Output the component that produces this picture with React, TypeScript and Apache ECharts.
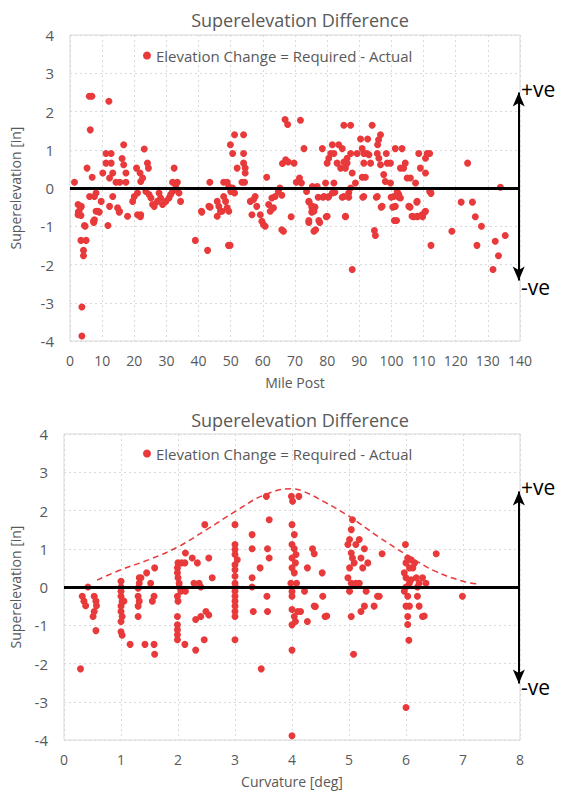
import React, { useEffect, useRef } from "react";
import * as echarts from "echarts";

const TITLE = "Superelevation Difference";
const LEGEND = "Elevation Change = Required - Actual";
const Y_NAME = "Superelevation [in]";
const X1_NAME = "Mile Post";
const X2_NAME = "Curvature [deg]";

// [mile post, elevation change (in)]
const milePostPoints: [number, number][] = [
  [6,2.4],[6.8,2.4],[12.1,2.27],[6.3,1.52],[16.7,1.13],[23.1,1.02],[5.3,0.52],[6.9,0.28],[1.4,0.15],
  [11.2,0.9],[12.8,0.9],[11.2,0.65],[12.8,0.65],[10.2,0.39],[13.3,0.39],[12.3,0.26],
  [16.2,0.77],[16.7,0.61],[17.4,0.39],[14.3,0.15],[15.5,0.15],[17.4,0.15],
  [20.7,0.52],[21.8,0.39],[22.6,0.26],[22,0.17],[24.1,0.65],[24.4,0.52],[32.4,0.52],[31.9,0.15],[33.4,0.15],[32.9,0.08],
  [8.1,-0.13],[7.6,-0.22],[6.1,-0.22],[2.5,-0.43],[3.5,-0.48],[2.8,-0.61],[2.5,-0.7],[4.5,-0.98],
  [8.1,-0.61],[8.7,-0.61],[7.6,-0.83],[7.3,-0.87],[9.7,-0.35],[11.8,-0.98],[12.3,-0.48],[14.8,-0.52],[15.4,-0.61],[17.9,-0.74],[13.3,-0.22],
  [19.5,-0.35],[20,-0.22],[21,-0.13],[21,-0.7],[22,-0.7],
  [23.6,-0.09],[24.6,-0.17],[25.2,-0.26],[25.7,-0.43],[27.2,-0.35],[28.2,-0.26],[28.8,-0.43],[29.8,-0.35],[30.8,-0.26],[31.3,-0.17],[31.9,-0.09],[32.9,-0.04],[33.9,-0.13],[34.4,-0.35],[27.7,-0.13],[26.2,-0.48],
  [40.9,-0.61],[43.2,-0.48],[43.5,0.15],[45.8,-0.35],[46.3,-0.48],[46.8,-0.61],[45.8,-0.74],
  [47.8,-0.22],[48.4,-0.35],[48.9,-0.52],[47.3,-0.61],[49.4,-0.61],
  [47.8,0.15],[48.9,0.15],[49.4,0.04],
  [49.9,1.13],[51.2,1.39],[54,1.39],[50.6,0.9],[54,0.9],[52,0.52],[54,0.65],[54.5,0.52],[54.5,0.39],[53.5,0.15],[54.3,0.15],
  [50,-0.09],[50.6,0],[51.2,-0.13],
  [56.1,-0.35],[57.1,-0.3],[57.6,-0.22],[58.1,-0.48],[56.6,-0.7],[59.2,-0.7],[59.7,-0.87],[60.2,-0.96],[60.7,-1.0],
  [61.2,0.28],[61.8,-0.43],[62.8,-0.26],[62.3,-0.61],[63.3,-0.52],[63.8,-0.22],[64.8,-0.09],[65.3,0],[65.9,-0.19],[66.1,0.64],[67.1,0.74],[67.9,0.68],[66.9,1.79],[67.7,1.66],[65.9,-1.09],
  [3.7,-3.11],[3.7,-3.87],[3.4,-1.37],[5,-1.37],[4.2,-1.63],[4.2,-1.77],[4.7,-1.0],[3.4,-0.5],[2.6,-0.63],[3.4,-0.72],[7.4,-0.9],[9.1,-0.63],[15.3,-0.63],[21.9,-0.75],[39,-1.37],[42.8,-1.63],[49.3,-1.5],[49.8,-1.5],[41,-0.63],[43.6,-0.5],
  [87.8,-2.13],[94.7,-1.11],[95,-1.24],[112.3,-1.5],[118.8,-1.13],[121.7,-0.37],[125.2,-0.37],[126.1,-0.75],[126.6,-1.5],[128,-1.0],[131.6,-2.13],[132.3,-1.39],[133.3,-1.77],[135.4,-1.24],[133.9,0.02],
  [66.4,-1.13],[68.8,-0.75],[74.3,-0.9],[75.9,-1.13],[77.7,-0.9],[79.7,-0.75],[85.7,-0.75],[74.4,-0.37],[75.2,-0.5],[75.2,-0.63],[76.2,-0.5],[77.2,-0.24],[78.7,-0.24],[80.3,-0.24],[82.4,-0.11],[84.7,-0.24],[86.7,-0.24],[91.1,-0.24],[95.3,-0.24],[96.8,-0.5],[100.4,-0.5],[100.9,-0.85],[99.9,-0.24],[102.3,-0.24],[105.8,-0.5],[106.9,-0.75],[108.1,-0.75],[109.7,-0.75],[110.4,-0.63],[107.9,-0.37],[112.3,-0.14],
  [71.7,1.77],[85.2,1.64],[87.3,1.64],[94,1.64],[90.4,1.28],[92.6,1.28],[96.6,1.39],[96,1.26],[95.7,1.13],[72.8,1.03],
  [78.5,1.03],[81.6,1.13],[83.6,1.13],[84.7,1.03],[81.1,0.9],[80.5,0.78],[80,0.65],[82.1,0.9],
  [83.1,0.65],[84.2,0.52],[85.7,0.52],[86.2,0.65],[87.3,0.9],[89.3,0.9],[87.8,0.39],[86.2,0.78],[85.2,0.68],
  [90.9,1.03],[91.4,0.9],[92.4,0.9],[91.4,0.65],[93.5,0.65],[90.9,0.28],[91.9,0.28],[93,0.87],[95.6,0.9],[96.1,0.78],[96.6,0.61],[98.4,0.9],
  [98.7,0.65],[99.7,0.65],[101.2,1.03],[103.3,1.03],[102.8,0.52],[104.3,0.65],[103.8,0.52],[104.9,0.26],[105.9,0.26],[108.5,0.9],[111.1,0.9],[111.9,0.9],[110.6,0.78],[109,0.52],[110.6,0.39],
  [97.6,0.35],[98.1,0.17],[99.7,0.13],[107.5,0.13],[111.9,-0.09],[123.7,0.65],
  [69.7,0.65],[71.4,0.26],[72,0.13],[70.4,0.15],
  [73.6,-0.09],[75.4,0.04],[76.9,0.04],[79.5,0.13],[82.1,0.13],[79,-0.22],[80.5,-0.22],[81.6,-0.13],
  [74.3,-0.35],[75.4,-0.48],[75.9,-0.61],[74.3,-0.85],[77.4,-0.85],[80,-0.74],[76.4,-1.09],
  [85.2,-0.22],[86.7,-0.13],[87.3,0],[88.8,0.13],[85.7,-0.74],[91.4,-0.22],[95.6,-0.22],[97.1,-0.48],
  [100.7,-0.22],[101.8,-0.09],[102.3,-0.17],[101.2,-0.48],[102.8,-0.26],[105.4,-0.48],[106.4,-0.74],[108,-0.74],[109.5,-0.7],[110.6,-0.61],[108,-0.35],[101.6,-0.85],[112.1,-0.09],
];

// [curvature (deg), elevation change (in)]
const curvaturePoints: [number, number][] = [
  [0.42,0],[0.32,-0.24],[0.35,-0.37],[0.38,-0.49],[0.53,-0.24],[0.56,-0.37],[0.57,-0.49],[0.53,-0.64],[0.51,-0.77],[0.29,-2.14],[0.56,-1.14],
  [1.0,0.15],[1.0,0],[1.0,-0.11],[1.0,-0.24],[1.02,-0.37],[1.0,-0.5],[1.0,-0.64],[1.02,-0.77],[1.0,-0.9],[1.05,-0.37],[1.0,-1.17],[1.02,-1.26],[1.16,-1.5],
  [1.32,0.24],[1.32,0.1],[1.3,-0.03],[1.3,-0.24],[1.32,-0.37],[1.3,-0.5],[1.3,-0.77],[1.35,0.24],[1.45,0.37],[1.59,0.5],[1.52,0.1],[1.55,-0.37],[1.58,-0.24],[1.42,-1.5],[1.58,-1.5],[1.59,-1.76],
  [2.0,0.63],[2.06,0.63],[2.12,0.63],[1.99,0.5],[1.99,0.37],[2.0,0.24],[2.02,0.1],[2.02,0],[2.05,-0.11],[2.13,-0.11],[1.99,-0.24],[2.0,-0.37],[1.99,-0.77],[1.99,-0.99],[1.99,-1.12],[1.99,-1.25],[1.99,-1.38],[2.12,-1.5],
  [2.13,0.89],[2.25,0.76],[2.34,0.63],[2.54,0.76],[2.6,0.24],[2.28,0.1],[2.37,0.1],[2.4,0],[2.31,-0.85],[2.4,-0.77],[2.49,-0.64],[2.47,1.63],[2.31,-1.65],[2.46,-1.38],[2.54,-0.73],
  [3.0,1.63],[3.0,1.11],[3.0,0.98],[3.0,0.85],[3.04,0.71],[3.0,0.58],[3.0,0.45],[3.0,0.28],[3.0,0.1],[3.01,0],[3.0,-0.11],[3.0,-0.24],[3.0,-0.37],[3.0,-0.5],[3.0,-0.64],[3.0,-0.77],[3.0,-1.38],
  [3.3,1.37],[3.3,1.0],[3.44,0.5],[3.3,0.24],[3.3,0],[3.32,-0.64],[3.56,-0.24],[3.57,-0.64],[3.57,1.0],[3.6,0.76],[3.6,1.76],[3.55,2.37],[3.46,-2.14],
  [3.99,2.37],[4.12,2.37],[4.01,2.24],[4.0,1.63],[4.04,1.37],[4.0,1.11],[4.04,1.0],[4.07,0.85],[4.0,0.76],[4.06,0.63],[4.0,0.5],[4.04,0.37],[4.08,0.1],[3.98,0.1],[4.0,-0.24],[4.0,-0.59],[4.04,-0.77],[4.1,-0.64],[4.0,-0.99],[4.06,-0.9],[4.0,-0.12],[4.0,-1.65],[4.0,-3.89],
  [4.36,1.0],[4.39,0.87],[4.27,0.5],[4.53,0.37],[4.22,-0.11],[4.54,-0.24],[4.39,-0.5],[4.58,-0.77],[4.27,-0.9],[4.41,-0.51],[4.61,-0.76],[4.15,-0.64],
  [5.06,1.76],[5.04,1.5],[5.01,1.24],[5.18,1.24],[4.98,1.11],[5.27,1.0],[5.12,1.11],[5.04,0.89],[5.06,0.76],[5.21,0.76],[5.09,0.63],[5.33,0.63],[5.24,0.5],[5.01,0.5],[4.98,0.24],[5.04,0.1],[5.12,0.1],[5.18,0.1],[5.01,-0.11],[5.3,-0.11],[5.5,-0.24],[5.53,-0.24],[5.04,-0.77],[5.21,-0.64],[5.27,-0.5],[5.44,-0.5],[5.58,0.87],[5.08,-1.76],
  [5.99,1.11],[6.03,0.76],[6.09,0.71],[6.15,0.63],[6.0,0.63],[6.06,0.5],[6.12,0.5],[5.97,0.37],[6.0,0.24],[6.09,0.19],[6.18,0.24],[6.06,0.1],[6.0,0],[6.2,0],[6.23,0.1],[6.29,0.24],[6.35,0.1],[5.97,-0.11],[6.03,-0.24],[6.2,-0.24],[6.0,-0.5],[6.06,-0.5],[6.23,-0.5],[6.29,-0.77],[6.03,-0.77],[6.03,-0.98],[6.05,-1.39],[6.0,-3.15],[6.53,0.87],[6.99,-0.24],[6.32,-0.76],
];

// dashed envelope in the curvature chart
const envelopePoints: [number, number][] = [
  [0.58,0.18],[1.0,0.45],[1.5,0.72],[2.0,1.05],[2.5,1.5],[3.0,1.97],[3.5,2.4],[4.0,2.57],[4.2,2.5],[4.55,2.24],[5.0,1.85],[5.5,1.33],[6.0,0.85],[6.5,0.42],[7.0,0.15],[7.25,0.08],
];

const RED = "#e8393b";
const GRAY_TEXT = "#595959";
const GRID_LINE = "#d9d9d9";
const FONT = "'Open Sans', 'Noto Sans', sans-serif";

function xAxisCfg(gridIndex: number, max: number, interval: number, name: string) {
  return {
    type: "value",
    gridIndex,
    min: 0,
    max,
    interval,
    name,
    nameLocation: "middle",
    nameGap: 34,
    nameTextStyle: { color: GRAY_TEXT, fontSize: 14, fontFamily: FONT },
    axisLine: { show: false },
    axisTick: { show: false },
    axisLabel: { color: GRAY_TEXT, fontSize: 14, margin: 12, fontFamily: FONT },
    splitLine: { show: true, lineStyle: { color: GRID_LINE, type: [2, 3], width: 1 } },
  };
}

function yAxisCfg(gridIndex: number, nameGap: number) {
  return {
    type: "value",
    gridIndex,
    min: -4,
    max: 4,
    interval: 1,
    name: Y_NAME,
    nameLocation: "middle",
    nameGap,
    nameTextStyle: { color: GRAY_TEXT, fontSize: 14, fontFamily: FONT },
    axisLine: { show: false },
    axisTick: { show: false },
    axisLabel: { color: GRAY_TEXT, fontSize: 15, margin: 16, fontFamily: FONT },
    splitLine: { show: true, lineStyle: { color: GRID_LINE, type: [2, 3], width: 1 } },
  };
}

function arrowMarkLine(xVal: number, top: number, bottom: number) {
  return {
    silent: true,
    animation: false,
    symbol: ["arrow", "arrow"],
    symbolSize: [9, 14],
    label: { show: false },
    lineStyle: { color: "#000", width: 2, type: "solid" },
    data: [[{ coord: [xVal, top] }, { coord: [xVal, bottom] }]],
  };
}

export default function App() {
  const ref = useRef<HTMLDivElement>(null);
  useEffect(() => {
    if (!ref.current) return;
    const chart = echarts.init(ref.current, undefined, { renderer: "svg" });
    const option: any = {
      animation: false,
      backgroundColor: "#fff",
      textStyle: { fontFamily: FONT },
      title: [
        { text: TITLE, left: 295, top: 6, textAlign: "center", textStyle: { color: GRAY_TEXT, fontSize: 18, fontWeight: "normal", fontFamily: FONT } },
        { text: TITLE, left: 295, top: 406, textAlign: "center", textStyle: { color: GRAY_TEXT, fontSize: 18, fontWeight: "normal", fontFamily: FONT } },
      ],
      legend: [
        { data: [LEGEND], left: 138, top: 43, icon: "circle", itemWidth: 8, itemHeight: 8, itemGap: 6, textStyle: { color: GRAY_TEXT, fontSize: 15, fontFamily: FONT } },
        { data: [LEGEND], left: 138, top: 441, icon: "circle", itemWidth: 8, itemHeight: 8, itemGap: 6, textStyle: { color: GRAY_TEXT, fontSize: 15, fontFamily: FONT } },
      ],
      grid: [
        { left: 69, top: 35, width: 451, height: 306, show: true, borderColor: GRID_LINE, borderWidth: 1 },
        { left: 63, top: 434, width: 457, height: 306, show: true, borderColor: GRID_LINE, borderWidth: 1 },
      ],
      xAxis: [xAxisCfg(0, 140, 10, X1_NAME), xAxisCfg(1, 8, 1, X2_NAME)],
      yAxis: [yAxisCfg(0, 48), yAxisCfg(1, 42)],
      series: [
        {
          name: LEGEND,
          type: "scatter",
          xAxisIndex: 0,
          yAxisIndex: 0,
          symbolSize: 7,
          itemStyle: { color: RED, opacity: 1 },
          data: milePostPoints,
          markLine: {
            silent: true,
            symbol: ["none", "none"],
            label: { show: false },
            lineStyle: { color: "#000", width: 3, type: "solid" },
            data: [{ yAxis: 0 }],
          },
          z: 3,
        },
        {
          name: "arrow1",
          type: "line",
          xAxisIndex: 0,
          yAxisIndex: 0,
          data: [],
          clip: false,
          markLine: arrowMarkLine(139.6, 2.5, -2.42),
          z: 5,
        },
        {
          name: "envelope",
          type: "line",
          xAxisIndex: 1,
          yAxisIndex: 1,
          smooth: 0.4,
          showSymbol: false,
          symbol: "none",
          lineStyle: { color: RED, width: 1.5, type: [6, 4] },
          data: envelopePoints,
          z: 2,
        },
        {
          name: LEGEND,
          type: "scatter",
          xAxisIndex: 1,
          yAxisIndex: 1,
          symbolSize: 7,
          itemStyle: { color: RED, opacity: 1 },
          data: curvaturePoints,
          markLine: {
            silent: true,
            symbol: ["none", "none"],
            label: { show: false },
            lineStyle: { color: "#000", width: 3, type: "solid" },
            data: [{ yAxis: 0 }],
          },
          z: 3,
        },
        {
          name: "arrow2",
          type: "line",
          xAxisIndex: 1,
          yAxisIndex: 1,
          data: [],
          clip: false,
          markLine: arrowMarkLine(7.98, 2.5, -2.52),
          z: 5,
        },
      ],
      graphic: [
        { type: "text", left: 521, top: 78, style: { text: "+ve", fill: "#000", fontSize: 21, fontFamily: FONT } },
        { type: "text", left: 521, top: 276, style: { text: "-ve", fill: "#000", fontSize: 21, fontFamily: FONT } },
        { type: "text", left: 521, top: 476, style: { text: "+ve", fill: "#000", fontSize: 21, fontFamily: FONT } },
        { type: "text", left: 521, top: 676, style: { text: "-ve", fill: "#000", fontSize: 21, fontFamily: FONT } },
      ],
    };
    chart.setOption(option);
    return () => chart.dispose();
  }, []);
  return <div ref={ref} style={{ position: "absolute", left: 0, top: 0, width: 562, height: 793 }} />;
}
